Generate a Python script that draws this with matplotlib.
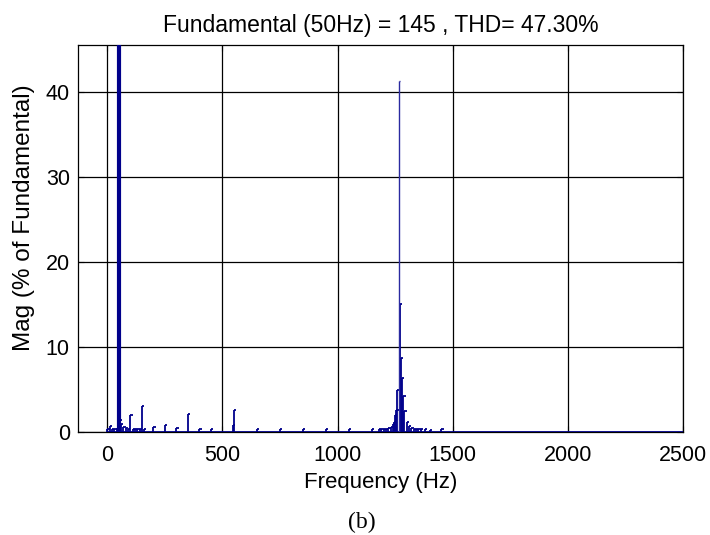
import matplotlib
matplotlib.use('Agg')
import matplotlib.pyplot as plt

# spectrum values (Hz, % of fundamental)
freq = [0, 10, 20, 30, 40, 45, 50, 55, 60, 70, 80, 90, 100, 110, 120,
        130, 140, 150, 160, 200, 250, 300, 350, 400, 450, 545, 550,
        650, 750, 850, 950, 1050, 1150]
mag = [0.35, 0.75, 0.4, 0.35, 0.5, 3.3, 100, 1.4, 1.0, 0.6, 0.5, 0.4, 2.0,
       0.4, 0.3, 0.3, 0.4, 3.0, 0.3, 0.6, 0.8, 0.45, 2.1, 0.35, 0.35, 0.8,
       2.6, 0.3, 0.35, 0.3, 0.3, 0.3, 0.3]

# sidebands around the switching frequency
sb_freq = [1180, 1190, 1200, 1210, 1220, 1230, 1240, 1245, 1250, 1255,
           1260, 1270, 1275, 1280, 1285, 1290, 1300, 1310, 1320, 1330,
           1340, 1350, 1360, 1380, 1400, 1450]
sb_mag = [0.3, 0.35, 0.4, 0.4, 0.5, 0.6, 0.9, 1.2, 2.0, 2.6, 4.9, 15.1,
          8.7, 6.4, 4.2, 2.5, 1.2, 0.7, 0.5, 0.4, 0.35, 0.4, 0.3, 0.3,
          0.2, 0.3]
peak_freq = 1265
peak_mag = 41.3

fund = 50
title = 'Fundamental (50Hz) = 145 , THD= 47.30%'
xticks = [0, 500, 1000, 1500, 2000, 2500]
yticks = [0, 10, 20, 30, 40]

blue = '#00008b'
plt.rcParams['font.family'] = ['Liberation Sans', 'DejaVu Sans']

fig = plt.figure(figsize=(7.1, 5.35), dpi=100)
ax = fig.add_axes([0.11, 0.1925, 0.852, 0.7234])

allf = freq + sb_freq
allm = mag + sb_mag
ax.vlines(allf, 0, allm, color=blue, lw=1.3, zorder=3)
ax.hlines(allm, allf, [f + 10 for f in allf], color=blue, lw=1.3, zorder=3)
ax.vlines([fund], 0, [100], color=blue, lw=3, zorder=4)
ax.vlines([peak_freq], 0, [peak_mag], color='#2a2aa0', lw=1.0, zorder=4)
ax.hlines([peak_mag], [peak_freq], [peak_freq + 8], color='#2a2aa0', lw=1.0, zorder=4)
ax.hlines(0, 0, 2500, color=blue, lw=2, zorder=3)

ax.set_xlim(-127, 2500)
ax.set_ylim(0, 45.5)
ax.set_xticks(xticks)
ax.set_yticks(yticks)
ax.grid(True, color='black', lw=0.9)
ax.set_axisbelow(True)
ax.tick_params(direction='in', length=4, top=True, right=True, labelsize=15.5)
ax.tick_params(axis='x', pad=9.5)
ax.tick_params(axis='y', pad=6)
for s in ax.spines.values():
    s.set_linewidth(0.9)

ax.set_title(title, fontsize=16.5, pad=9)
ax.set_xlabel('Frequency (Hz)', fontsize=16)
ax.xaxis.set_label_coords(0.5, -0.103)
ax.set_ylabel('Mag (% of Fundamental)', fontsize=17.5)
ax.yaxis.set_label_coords(-0.071, 0.553)
fig.text(0.51, 0.024, '(b)', family='Liberation Serif', fontsize=17, ha='center', va='center')

fig.savefig('out.png', dpi=100)
